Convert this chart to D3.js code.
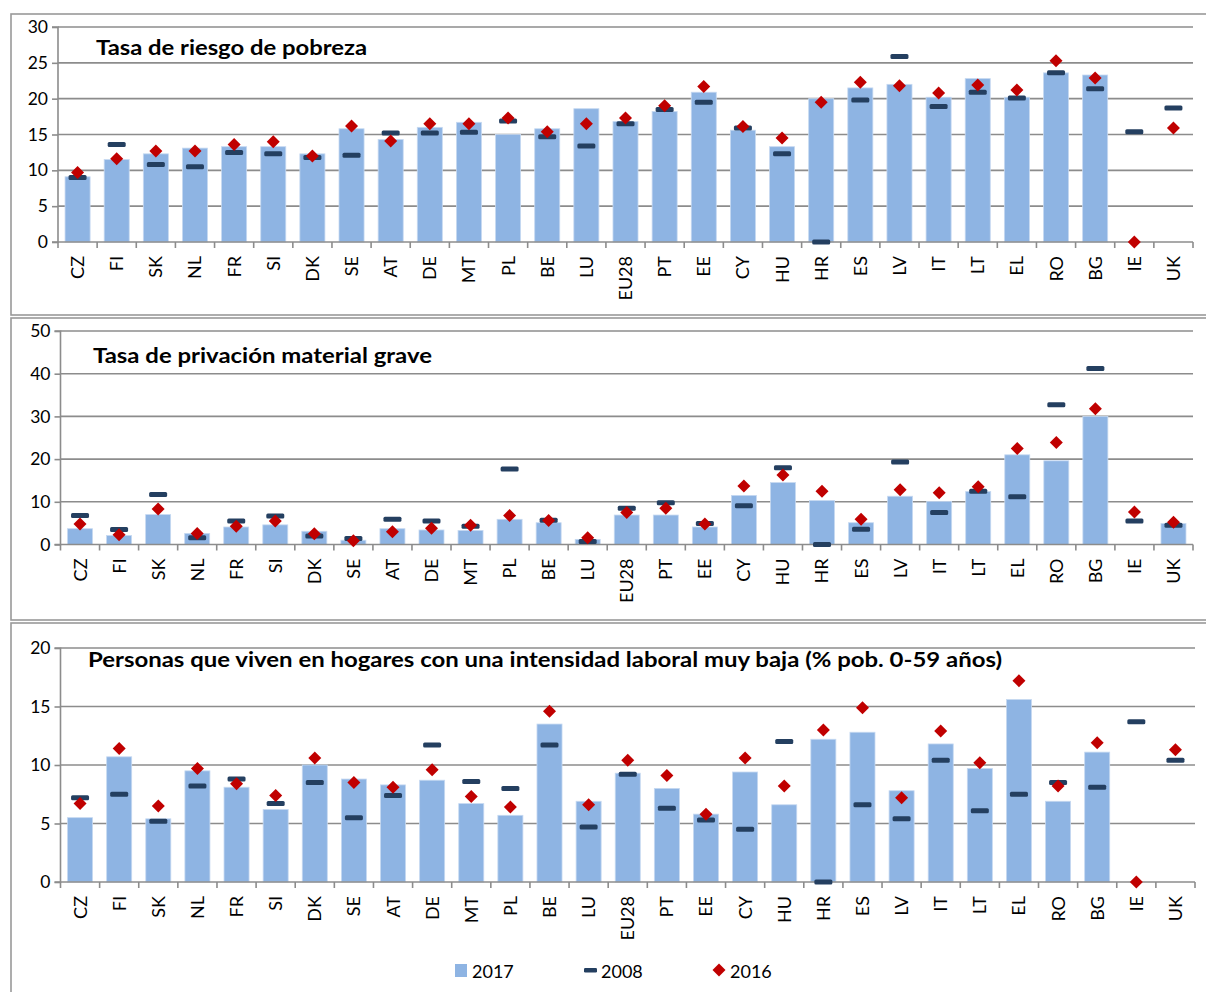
<!DOCTYPE html>
<html><head><meta charset="utf-8">
<script src="https://cdn.jsdelivr.net/npm/d3@7"></script>
<style>
html,body{margin:0;padding:0;background:#fff;}
text{font-family:Lato,"Open Sans",sans-serif;fill:#000;}
</style></head>
<body><svg id="chart" width="1206" height="992"></svg>
<script>
const categories = ["CZ","FI","SK","NL","FR","SI","DK","SE","AT","DE","MT","PL","BE","LU","EU28","PT","EE","CY","HU","HR","ES","LV","IT","LT","EL","RO","BG","IE","UK"];

const titles = ["Tasa de riesgo de pobreza","Tasa de privación material grave","Personas que viven en hogares con una intensidad laboral muy baja (% pob. 0-59 años)"];
const seriesNames = ["2017","2008","2016"];

const pov2017 = [9.1,11.5,12.3,13.1,13.3,13.3,12.3,15.8,14.3,16.0,16.7,15.0,15.8,18.6,16.8,18.2,20.9,15.6,13.3,20.0,21.5,22.0,20.2,22.8,20.2,23.6,23.3,null,null];
const pov2008 = [9.0,13.6,10.8,10.5,12.5,12.3,11.8,12.1,15.2,15.2,15.3,16.9,14.7,13.4,16.5,18.5,19.5,15.9,12.3,0,19.8,25.9,18.9,20.9,20.1,23.6,21.4,15.4,18.7];
const pov2016 = [9.7,11.6,12.7,12.7,13.6,14.0,12.0,16.2,14.1,16.5,16.5,17.3,15.4,16.5,17.3,19.0,21.7,16.1,14.5,19.5,22.3,21.8,20.8,21.9,21.2,25.3,22.9,0,15.9];

const dep2017 = [3.7,2.1,7.0,2.6,4.1,4.6,3.1,1.0,3.7,3.4,3.3,5.9,5.1,1.2,6.9,6.9,4.1,11.5,14.5,10.3,5.1,11.3,10.1,12.4,21.0,19.6,30.0,null,4.9];
const dep2008 = [6.8,3.5,11.7,1.6,5.5,6.7,2.0,1.4,5.9,5.5,4.3,17.7,5.7,0.7,8.5,9.8,4.9,9.1,18.0,0,3.6,19.3,7.5,12.5,11.2,32.7,41.2,5.5,4.5];
const dep2016 = [4.8,2.3,8.3,2.6,4.3,5.5,2.5,0.9,3.0,3.8,4.5,6.8,5.6,1.6,7.5,8.5,4.8,13.7,16.3,12.5,5.9,12.8,12.1,13.5,22.5,23.9,31.8,7.6,5.2];

const lwi2017 = [5.5,10.7,5.4,9.5,8.1,6.2,10.0,8.8,8.3,8.7,6.7,5.7,13.5,6.9,9.3,8.0,5.8,9.4,6.6,12.2,12.8,7.8,11.8,9.7,15.6,6.9,11.1,null,null];
const lwi2008 = [7.2,7.5,5.2,8.2,8.8,6.7,8.5,5.5,7.4,11.7,8.6,8.0,11.7,4.7,9.2,6.3,5.3,4.5,12.0,0,6.6,5.4,10.4,6.1,7.5,8.5,8.1,13.7,10.4];
const lwi2016 = [6.7,11.4,6.5,9.7,8.4,7.4,10.6,8.5,8.1,9.6,7.3,6.4,14.6,6.6,10.4,9.1,5.8,10.6,8.2,13.0,14.9,7.2,12.9,10.2,17.2,8.2,11.9,0,11.3];

const ticks1 = [0,5,10,15,20,25,30];
const ticks2 = [0,10,20,30,40,50];
const ticks3 = [0,5,10,15,20];

const COL_BAR = "#8EB4E3", COL_DASH = "#243F60", COL_DIA = "#C00000", COL_GRID = "#8C8C8C";

const svg = d3.select("#chart");

// panel frames
const frames = [[11,14,315],[11,318,620],[11,623,1010]];
frames.forEach(f => {
  svg.append("rect").attr("x", f[0]).attr("y", f[1]).attr("width", 1220).attr("height", f[2]-f[1])
    .attr("fill", "none").attr("stroke", "#999").attr("stroke-width", 1.6);
});

const panels = [
  {left:58, right:1193, top:27, bottom:242, ticks:ticks1, s17:pov2017, s08:pov2008, s16:pov2016, title:titles[0], tx:96, ty:55, tw:271},
  {left:60.5, right:1193, top:331, bottom:544.5, ticks:ticks2, s17:dep2017, s08:dep2008, s16:dep2016, title:titles[1], tx:93, ty:362.5, tw:339},
  {left:60.5, right:1195, top:648, bottom:882, ticks:ticks3, s17:lwi2017, s08:lwi2008, s16:lwi2016, title:titles[2], tx:88, ty:666.5, tw:914}
];

function diamondPath(r){ return `M0,${-r}L${r},0L0,${r}L${-r},0Z`; }

panels.forEach(p => {
  const g = svg.append("g");
  const x = d3.scaleBand().domain(categories).range([p.left, p.right]).paddingInner(0).paddingOuter(0);
  const y = d3.scaleLinear().domain([d3.min(p.ticks), d3.max(p.ticks)]).range([p.bottom, p.top]);

  // gridlines
  g.append("g").selectAll("line").data(p.ticks.filter(t => t > 0)).join("line")
    .attr("x1", p.left).attr("x2", p.right).attr("y1", d => y(d)).attr("y2", d => y(d))
    .attr("stroke", COL_GRID).attr("stroke-width", 1.6);

  // bars
  const bw = x.bandwidth() * 0.64;
  g.append("g").selectAll("rect").data(categories.map((c,i) => ({c, v:p.s17[i]})).filter(d => d.v != null)).join("rect")
    .attr("x", d => x(d.c) + (x.bandwidth()-bw)/2).attr("width", bw)
    .attr("y", d => y(d.v)).attr("height", d => y(0) - y(d.v))
    .attr("fill", COL_BAR).attr("stroke", "#C6D9F1").attr("stroke-width", 0.8);

  // y axis
  const yAxis = d3.axisLeft(y).tickValues(p.ticks).tickSize(6).tickPadding(4).tickFormat(d3.format("d"));
  const ya = g.append("g").attr("transform", `translate(${p.left},0)`).call(yAxis);
  ya.select(".domain").attr("stroke", COL_GRID).attr("stroke-width", 1.6).attr("d", `M-6,${p.top}H0V${p.bottom}H-6`);
  ya.selectAll(".tick line").attr("stroke", COL_GRID).attr("stroke-width", 1.6);
  ya.selectAll(".tick text").attr("font-size", 17.5).attr("font-family", "Lato").attr("fill", "#000");

  // x axis
  g.append("line").attr("x1", p.left).attr("x2", p.right).attr("y1", y(0)).attr("y2", y(0))
    .attr("stroke", COL_GRID).attr("stroke-width", 1.6);
  const bounds = categories.map(c => x(c)).concat([p.right]);
  g.append("g").selectAll("line").data(bounds).join("line")
    .attr("x1", d => d).attr("x2", d => d).attr("y1", y(0)).attr("y2", y(0) + 6)
    .attr("stroke", COL_GRID).attr("stroke-width", 1.6);
  g.append("g").selectAll("text").data(categories).join("text")
    .attr("transform", d => `translate(${x(d) + x.bandwidth()/2},${y(0) + 14}) rotate(-90)`)
    .attr("text-anchor", "end").attr("dy", "0.36em").attr("font-size", 18)
    .text(d => d);

  // 2008 dashes
  g.append("g").selectAll("rect").data(categories.map((c,i) => ({c, v:p.s08[i]})).filter(d => d.v != null)).join("rect")
    .attr("x", d => x(d.c) + x.bandwidth()/2 - 9).attr("width", 18)
    .attr("y", d => y(d.v) - 2.5).attr("height", 5).attr("rx", 1.5)
    .attr("fill", COL_DASH);

  // 2016 diamonds
  g.append("g").selectAll("path").data(categories.map((c,i) => ({c, v:p.s16[i]})).filter(d => d.v != null)).join("path")
    .attr("transform", d => `translate(${x(d.c) + x.bandwidth()/2},${y(d.v)})`)
    .attr("d", diamondPath(6.5)).attr("fill", COL_DIA);

  // title
  g.append("text").attr("x", p.tx).attr("y", p.ty).attr("font-size", 20.5).attr("font-weight", "bold")
    .attr("textLength", p.tw).attr("lengthAdjust", "spacingAndGlyphs").text(p.title);
});

// legend
const lg = svg.append("g");
lg.append("rect").attr("x", 455).attr("y", 964).attr("width", 12).attr("height", 13).attr("fill", COL_BAR);
lg.append("text").attr("x", 472).attr("y", 977.5).attr("font-size", 18).text(seriesNames[0]);
lg.append("rect").attr("x", 584).attr("y", 968).attr("width", 13).attr("height", 4.5).attr("rx", 1.2).attr("fill", COL_DASH);
lg.append("text").attr("x", 601).attr("y", 977.5).attr("font-size", 18).text(seriesNames[1]);
lg.append("path").attr("transform", "translate(719,970)").attr("d", diamondPath(6.5)).attr("fill", COL_DIA);
lg.append("text").attr("x", 730).attr("y", 977.5).attr("font-size", 18).text(seriesNames[2]);
</script></body></html>
